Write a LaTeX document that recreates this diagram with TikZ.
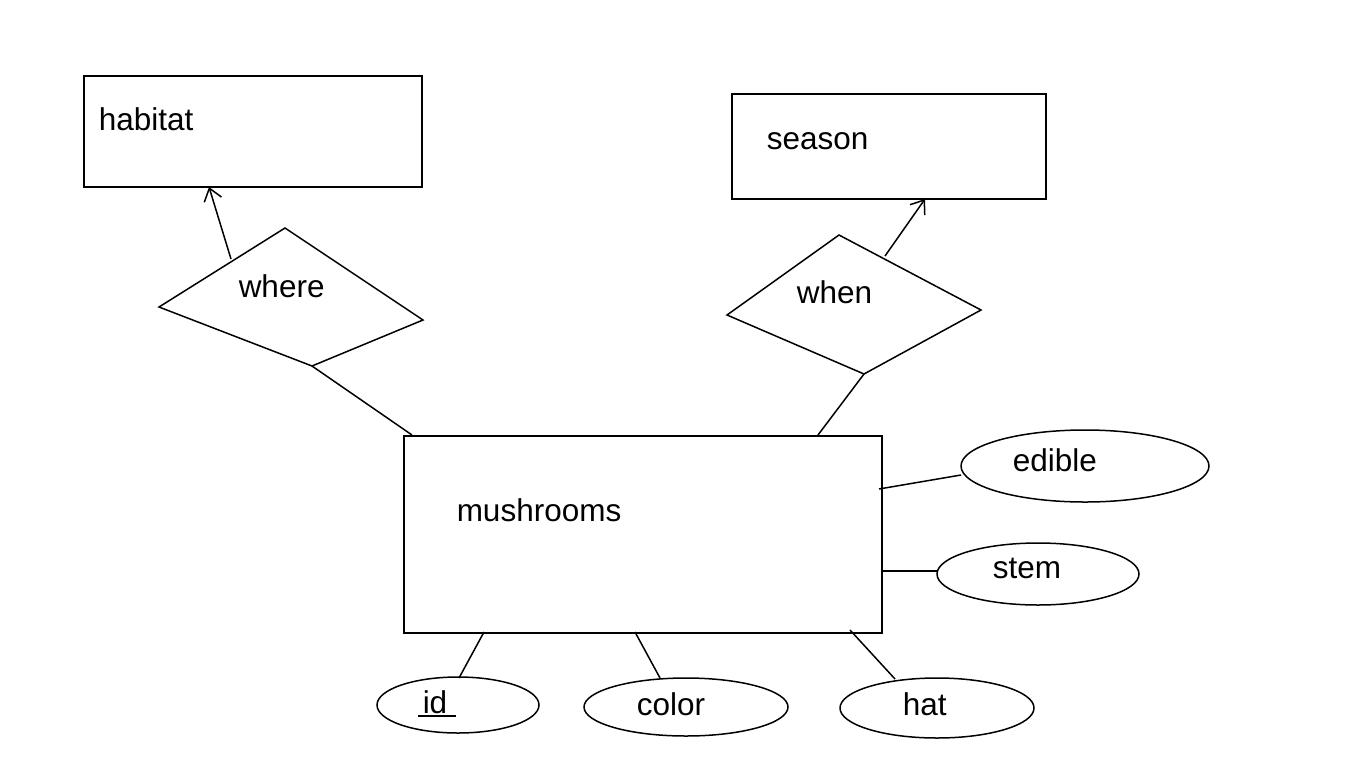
\documentclass[tikz,border=0pt]{standalone}
\usepackage{fontspec}
\setmainfont{Liberation Sans}
\usetikzlibrary{shapes.geometric,arrows.meta}
\begin{document}
\begin{tikzpicture}[x=1pt,y=-1pt,line width=1.5pt,
  lbl/.style={inner sep=0pt,anchor=west,font=\fontsize{31.5}{37}\selectfont},
  ent/.style={draw,inner sep=0pt,anchor=north west},
  attr/.style={draw,ellipse,inner sep=0pt},
  barb/.style={-{Straight Barb[length=12pt,width=18pt,line width=1.5pt]}}]
\useasboundingbox (0,0) rectangle (1352,756);
% entities
\node[ent,minimum width=338pt,minimum height=111pt] (habitat) at (83,75) {};
\node[lbl] (habitatT) at (98,119) {habitat};
\node[ent,minimum width=314pt,minimum height=105pt] (season) at (731,93) {};
\node[lbl] (seasonT) at (766,141) {season};
\node[ent,minimum width=478pt,minimum height=197pt] (mush) at (403,435) {};
\node[lbl] (mushT) at (456,510) {mushrooms};
% relationships
\coordinate (wT) at (285,228); \coordinate (wL) at (159,307);
\coordinate (wB) at (312,366); \coordinate (wR) at (423,320);
\draw (wT) -- (wR) -- (wB) -- (wL) -- cycle;
\node[lbl] (whereT) at (238,286) {where};
\coordinate (nT) at (839,235); \coordinate (nL) at (727,315);
\coordinate (nB) at (864,374); \coordinate (nR) at (981,310);
\draw (nT) -- (nR) -- (nB) -- (nL) -- cycle;
\node[lbl] (whenT) at (796,292) {when};
% attributes
\node[attr,minimum width=248pt,minimum height=72pt] (edible) at (1085,466) {};
\node[lbl] (edibleT) at (1012,460) {edible};
\node[attr,minimum width=202pt,minimum height=62pt] (stem) at (1038,574) {};
\node[lbl] (stemT) at (992,568) {stem};
\node[attr,minimum width=162pt,minimum height=56pt] (id) at (458,705) {};
\node[lbl] (idT) at (422,702) {id};
\draw (418,716) -- (456,716);
\node[attr,minimum width=204pt,minimum height=58pt] (color) at (686,707) {};
\node[lbl] (colorT) at (636,704) {color};
\node[attr,minimum width=194pt,minimum height=60pt] (hat) at (937,708) {};
\node[lbl] (hatT) at (902,704) {hat};
% connectors
\coordinate (a1) at (231,259); \coordinate (a2) at (209,187);
\draw[barb] (a1) -- (a2);
\coordinate (b1) at (885,256); \coordinate (b2) at (925,199);
\draw[barb] (b1) -- (b2);
\coordinate (m1) at (412,435); \draw (wB) -- (m1);
\coordinate (m2) at (818,435); \draw (nB) -- (m2);
\coordinate (m3) at (879,489); \coordinate (e1) at (961,475); \draw (m3) -- (e1);
\coordinate (m4) at (881,571); \coordinate (s1) at (937,571); \draw (m4) -- (s1);
\coordinate (m5) at (484,632); \coordinate (i1) at (459,678); \draw (m5) -- (i1);
\coordinate (m6) at (635,632); \coordinate (c1) at (660,678); \draw (m6) -- (c1);
\coordinate (m7) at (850,630); \coordinate (h1) at (895,679); \draw (m7) -- (h1);
\end{tikzpicture}
\end{document}
